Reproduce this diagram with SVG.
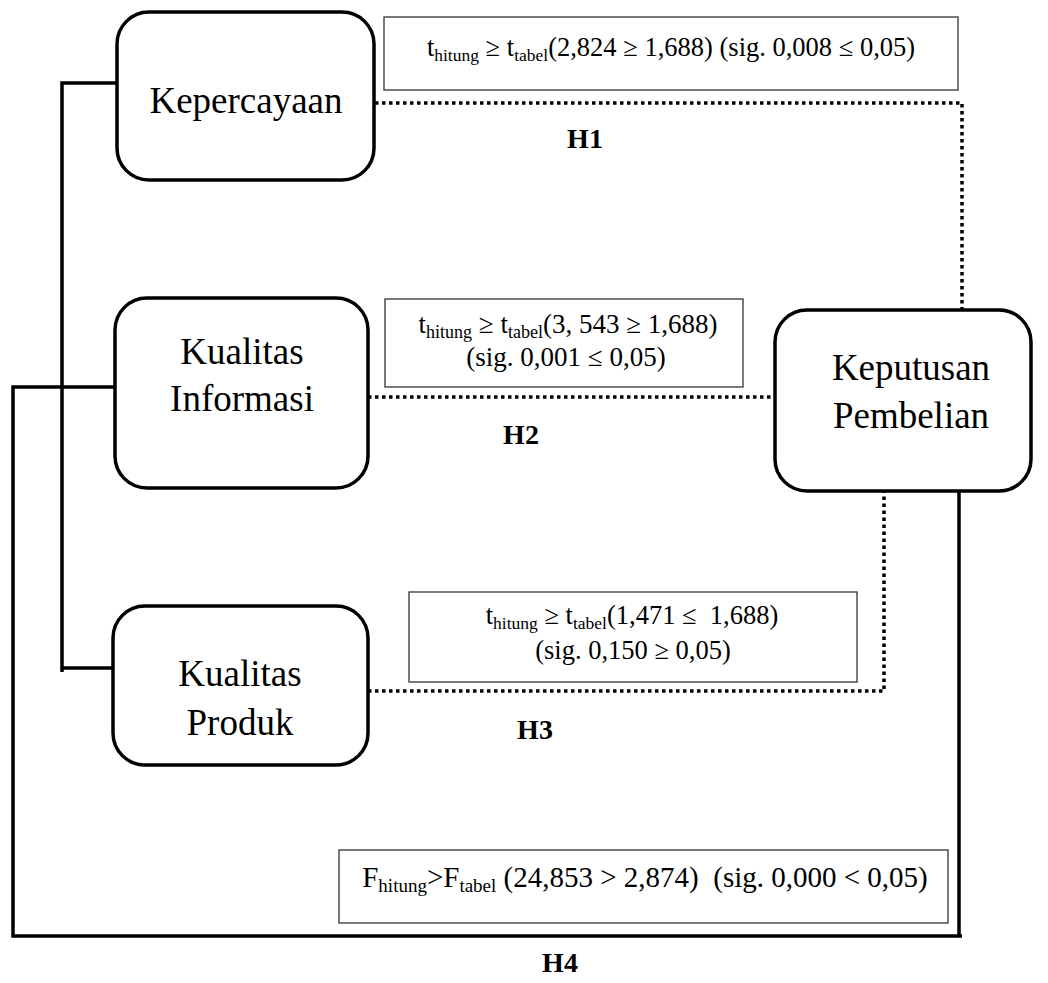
<svg xmlns="http://www.w3.org/2000/svg" width="1048" height="983" viewBox="0 0 1048 983">
<style>
.node{fill:#fff;stroke:#000;stroke-width:3.5}
.nt{font-family:"Liberation Serif","Times New Roman",serif;font-size:37px;fill:#000;text-anchor:middle}
.tb{fill:#fff;stroke:#333;stroke-width:1.3}
.tt{font-family:"Liberation Serif","Times New Roman",serif;fill:#000;text-anchor:middle;white-space:pre}
.h{font-family:"Liberation Serif","Times New Roman",serif;font-size:28px;font-weight:bold;fill:#000;text-anchor:middle}
.solid{fill:none;stroke:#000;stroke-width:3.5}
.dot{fill:none;stroke:#000;stroke-width:3.5;stroke-dasharray:3.5 3.5}
</style>
<g id="connectors">
<path class="solid" d="M117 83 H62 V672 M62 668 H113"/>
<path class="solid" d="M115 387 H13 V936 H962 M959 936 V491"/>
<path class="dot" d="M375 103 H962 V310"/>
<path class="dot" d="M368 397 H775"/>
<path class="dot" d="M368 691 H884 V491"/>
</g>
<g id="label-h1">
<rect class="tb" x="384" y="17" width="574" height="73"/>
<text class="tt" x="671" y="56" font-size="26.5">t<tspan font-size="17.5" dy="5">hitung</tspan><tspan dy="-5"> ≥ t</tspan><tspan font-size="17.5" dy="5">tabel</tspan><tspan dy="-5">(2,824 ≥ 1,688) (sig. 0,008 ≤ 0,05)</tspan></text>
<text class="h" x="585" y="148">H1</text>
</g>
<g id="label-h2">
<rect class="tb" x="385" y="299" width="358" height="88"/>
<text class="tt" x="568" y="333" font-size="27">t<tspan font-size="18" dy="5">hitung</tspan><tspan dy="-5"> ≥ t</tspan><tspan font-size="18" dy="5">tabel</tspan><tspan dy="-5">(3, 543 ≥ 1,688)</tspan></text>
<text class="tt" x="566" y="366" font-size="27">(sig. 0,001 ≤ 0,05)</text>
<text class="h" x="521" y="444">H2</text>
</g>
<g id="label-h3">
<rect class="tb" x="409" y="592" width="448" height="90"/>
<text class="tt" x="632" y="624" font-size="26.5">t<tspan font-size="17.5" dy="5">hitung</tspan><tspan dy="-5"> ≥ t</tspan><tspan font-size="17.5" dy="5">tabel</tspan><tspan dy="-5">(1,471 ≤  1,688)</tspan></text>
<text class="tt" x="633" y="659" font-size="26.5">(sig. 0,150 ≥ 0,05)</text>
<text class="h" x="535" y="739">H3</text>
</g>
<g id="label-h4">
<rect class="tb" x="339" y="850" width="609" height="73"/>
<text class="tt" x="645" y="887" font-size="29">F<tspan font-size="19" dy="5">hitung</tspan><tspan dy="-5">&gt;F</tspan><tspan font-size="19" dy="5">tabel</tspan><tspan dy="-5"> (24,853 &gt; 2,874)  (sig. 0,000 &lt; 0,05)</tspan></text>
<text class="h" x="560" y="972">H4</text>
</g>
<g id="node-kepercayaan">
<rect class="node" x="117" y="12" width="257" height="168" rx="32"/>
<text class="nt" x="246" y="113">Kepercayaan</text>
</g>
<g id="node-kualitas-informasi">
<rect class="node" x="115" y="298" width="253" height="190" rx="32"/>
<text class="nt" x="242" y="364">Kualitas</text>
<text class="nt" x="242" y="411">Informasi</text>
</g>
<g id="node-kualitas-produk">
<rect class="node" x="113" y="606" width="255" height="159" rx="32"/>
<text class="nt" x="240" y="686">Kualitas</text>
<text class="nt" x="240" y="735">Produk</text>
</g>
<g id="node-keputusan-pembelian">
<rect class="node" x="775" y="310" width="256" height="181" rx="32"/>
<text class="nt" x="911" y="380">Keputusan</text>
<text class="nt" x="911" y="428">Pembelian</text>
</g>
</svg>
